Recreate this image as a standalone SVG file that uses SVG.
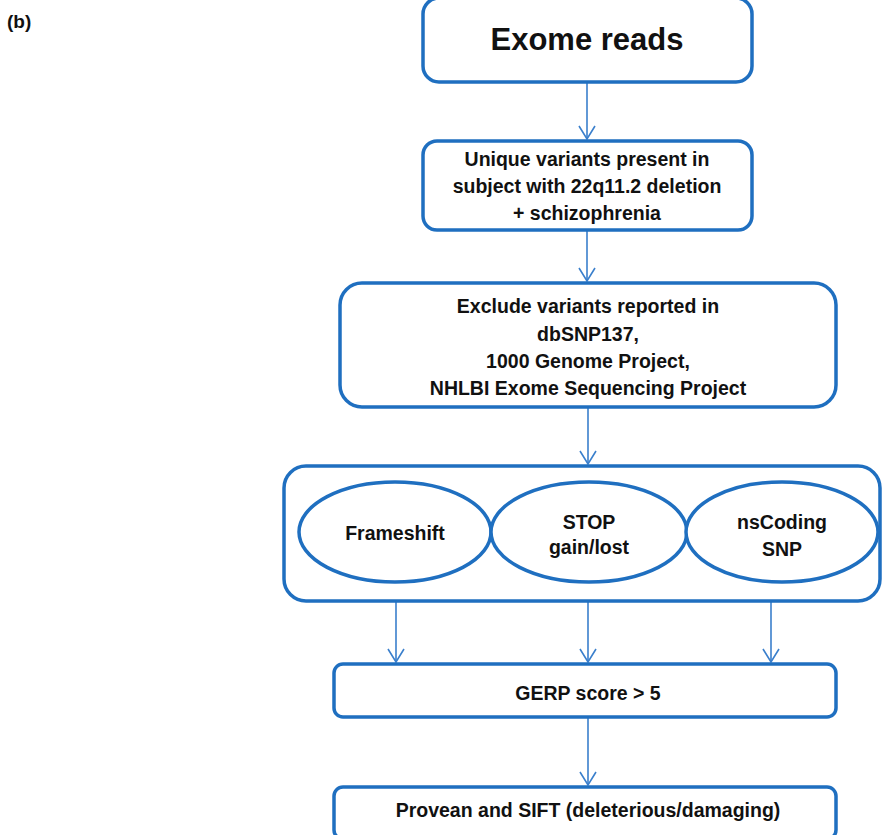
<svg xmlns="http://www.w3.org/2000/svg" width="882" height="835" viewBox="0 0 882 835">
<defs>
<marker id="arr" markerUnits="userSpaceOnUse" markerWidth="20" markerHeight="20" viewBox="-2 -2 18 20" refX="13" refY="8" orient="auto" overflow="visible">
<path d="M0,0 L13,8 L0,16" fill="none" stroke="#3a7fcc" stroke-width="1.6"/>
</marker>
</defs>
<style>
.box{fill:#fff;stroke:#1f6fc0;stroke-width:3.5}
.t{font-family:"Liberation Sans",Arial,sans-serif;font-weight:bold;font-size:19.5px;fill:#111;text-anchor:middle}
.c{stroke:#3a7fcc;stroke-width:1.6;fill:none;marker-end:url(#arr)}
</style>
<rect width="882" height="835" fill="#fff"/>
<text x="7" y="28" style="font-family:'Liberation Sans',Arial,sans-serif;font-weight:bold;font-size:19px;fill:#111">(b)</text>
<g id="connectors">
<line class="c" x1="587" y1="82" x2="587" y2="139"/>
<line class="c" x1="587" y1="230" x2="587" y2="281"/>
<line class="c" x1="588" y1="407" x2="588" y2="464"/>
<line class="c" x1="396" y1="582" x2="396" y2="662"/>
<line class="c" x1="588" y1="582" x2="588" y2="662"/>
<line class="c" x1="771" y1="582" x2="771" y2="662"/>
<line class="c" x1="588" y1="717" x2="588" y2="785"/>
</g>
<g id="exome">
<rect class="box" x="423" y="-2" width="329" height="84" rx="16"/>
<text class="t" x="587" y="50" style="font-size:31px">Exome reads</text>
</g>
<g id="unique">
<rect class="box" x="423" y="141" width="329" height="89" rx="14"/>
<text class="t" x="587" y="166">Unique variants present in</text>
<text class="t" x="587" y="193">subject with 22q11.2 deletion</text>
<text class="t" x="587" y="220">+ schizophrenia</text>
</g>
<g id="exclude">
<rect class="box" x="340" y="283" width="496" height="124" rx="22"/>
<text class="t" x="588" y="313">Exclude variants reported in</text>
<text class="t" x="588" y="341">dbSNP137,</text>
<text class="t" x="588" y="368">1000 Genome Project,</text>
<text class="t" x="588" y="395">NHLBI Exome Sequencing Project</text>
</g>
<g id="categories">
<rect class="box" x="284" y="466" width="596" height="135" rx="22"/>
</g>
<g id="frameshift">
<ellipse class="box" cx="395" cy="532" rx="96" ry="50"/>
<text class="t" x="395" y="540">Frameshift</text>
</g>
<g id="stop">
<ellipse class="box" cx="589" cy="532" rx="98" ry="50"/>
<text class="t" x="589" y="529">STOP</text>
<text class="t" x="589" y="554">gain/lost</text>
</g>
<g id="nscoding">
<ellipse class="box" cx="782" cy="532" rx="96" ry="50"/>
<text class="t" x="782" y="529">nsCoding</text>
<text class="t" x="782" y="556">SNP</text>
</g>
<g id="gerp">
<rect class="box" x="334" y="664" width="502" height="53" rx="9"/>
<text class="t" x="588" y="700">GERP score &gt; 5</text>
</g>
<g id="provean">
<rect class="box" x="334" y="787" width="502" height="52" rx="9"/>
<text class="t" x="588" y="817">Provean and SIFT (deleterious/damaging)</text>
</g>
</svg>
